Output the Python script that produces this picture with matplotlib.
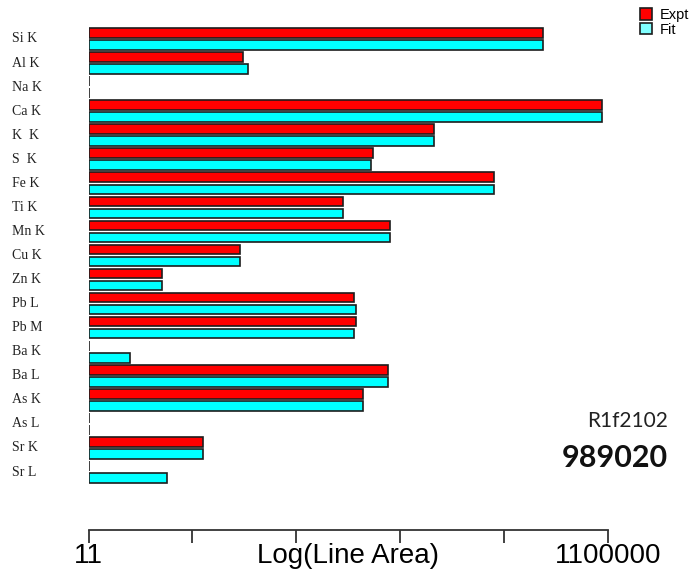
import matplotlib
matplotlib.use('Agg')
import matplotlib.pyplot as plt
from matplotlib.patches import Patch
import numpy as np

lines = ['Si K', 'Al K', 'Na K', 'Ca K', 'K  K', 'S  K', 'Fe K', 'Ti K', 'Mn K', 'Cu K',
         'Zn K', 'Pb L', 'Pb M', 'Ba K', 'Ba L', 'As K', 'As L', 'Sr K', 'Sr L']
expt = [262000, 340, 11, 969000, 23300, 5980, 88000, 3115, 8840, 316,
        56, 3975, 4130, 11, 8480, 4860, 11, 138, 11]
fit = [262000, 375, 11, 969000, 23300, 5720, 88000, 3115, 8840, 316,
       56, 4130, 3975, 27.8, 8480, 4860, 11, 138, 62]
x_ticks = [11, 110, 1100, 11000, 110000, 1100000]
x_ticklabels = ['11', '', '', '', '', '1100000']
sample_id = 'R1f2102'
sample_total = '989020'

base = 11
W, H = 695, 572

fig = plt.figure(figsize=(W / 100, H / 100), dpi=100)
ax = fig.add_axes([88.5 / W, 42 / H, 519.5 / W, 530 / H])

y = np.arange(len(lines))
edge = '#1c1c1c'
ax.barh(y - 0.25, np.array(expt) - base, left=base, height=0.4,
        color='#ff0000', edgecolor=edge, linewidth=1.2)
ax.barh(y + 0.25, np.array(fit) - base, left=base, height=0.4,
        color='#00ffff', edgecolor=edge, linewidth=1.2)

ax.set_xscale('log')
ax.set_xlim(11, 1100000)
ax.set_ylim(20.41, -1.62)

for s in ['left', 'top', 'right']:
    ax.spines[s].set_visible(False)
ax.spines['bottom'].set_color('#333333')
ax.spines['bottom'].set_linewidth(1.3)

ax.set_xticks(x_ticks)
ax.set_xticklabels(x_ticklabels, fontsize=20, family='Liberation Sans')
ax.xaxis.set_minor_locator(matplotlib.ticker.NullLocator())
ax.tick_params(axis='x', direction='out', length=9, width=1.3, color='#333333', pad=0.5)
ax.set_yticks([])

ax.annotate('Log(Line Area)', xy=(0.5, 0), xycoords='axes fraction',
            xytext=(0, -9.5), textcoords='offset points', ha='center', va='top',
            fontsize=20, family='Liberation Sans')

# element line names at the far left
trans = matplotlib.transforms.blended_transform_factory(fig.transFigure, ax.transData)
for i, name in enumerate(lines):
    ax.text(12 / W, i, name, transform=trans, ha='left', va='center',
            fontsize=10, family='Liberation Serif', color='#222222')

handles = [Patch(facecolor='#ff0000', edgecolor=edge, linewidth=1.2),
           Patch(facecolor='#80ffff', edgecolor=edge, linewidth=1.2)]
fig.legend(handles, ['Expt', 'Fit'], loc='upper left',
           bbox_to_anchor=(640 / W, 1 - 8 / H), frameon=False,
           prop={'family': 'Liberation Sans', 'size': 10.5},
           handlelength=0.85, handleheight=0.85, handletextpad=0.5,
           labelspacing=0.05, borderpad=0, borderaxespad=0)

fig.text(668 / W, 1 - 427 / H, sample_id, ha='right', va='baseline',
         fontsize=15, family='Lato', color='#222222')
fig.text(668 / W, 1 - 467 / H, sample_total, ha='right', va='baseline',
         fontsize=22, family='Lato', weight='bold', color='#111111')

fig.savefig('out.png', dpi=100)
